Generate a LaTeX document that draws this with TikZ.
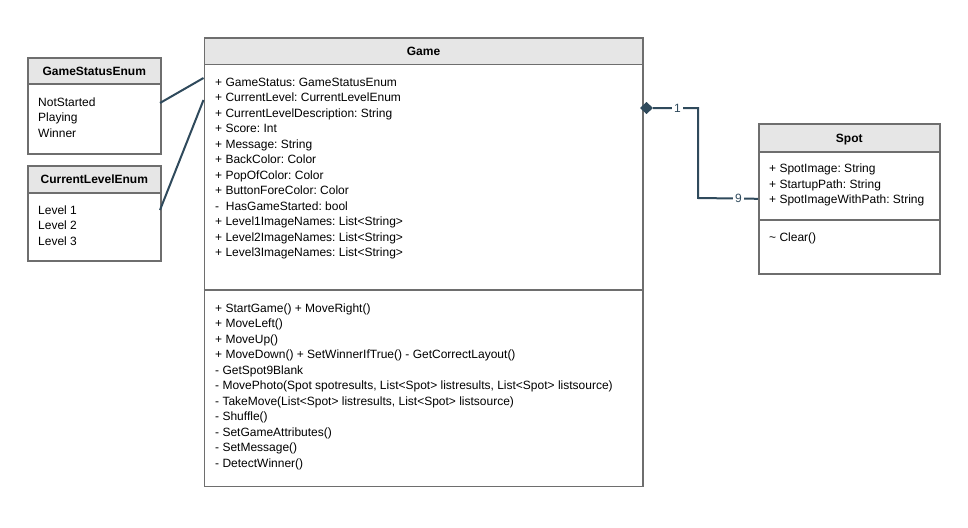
\documentclass[tikz,border=0pt]{standalone}
\usepackage{fontspec}
\setmainfont{Liberation Sans}
\frenchspacing
\definecolor{bordergray}{HTML}{6E6E6E}
\definecolor{headfill}{HTML}{E6E6E6}
\definecolor{conncol}{HTML}{2F4A5C}
\tikzset{
  classbox/.style={draw=bordergray, line width=1.6pt, fill=white, rectangle, inner sep=0pt, anchor=north west},
  headbox/.style={draw=bordergray, line width=1.6pt, fill=headfill, rectangle, inner sep=0pt, anchor=north west},
  divider/.style={draw=bordergray, line width=1.6pt},
  title/.style={font=\fontsize{12}{14}\selectfont\bfseries, text height=8.6pt, text depth=0pt, inner sep=0pt},
  item/.style={font=\fontsize{12}{14}\selectfont, anchor=base west, inner sep=0pt},
  conn/.style={draw=conncol, line width=2pt},
  mult/.style={font=\fontsize{12}{14}\selectfont, text=conncol, fill=white, inner sep=1.8pt, text height=8.6pt, text depth=0pt}
}
\begin{document}
\begin{tikzpicture}[x=1pt,y=-1pt]
\useasboundingbox (0,0) rectangle (968,527);
% ---------- GameStatusEnum ----------
\node[classbox, minimum width=133pt, minimum height=96pt] (gse) at (27,57) {};
\node[headbox, minimum width=133pt, minimum height=26pt] (gseh) at (27,57) {};
\node[title] (gset) at (gseh.center) {GameStatusEnum};
\foreach \t [count=\i] in {NotStarted, Playing, Winner}
  \node[item] (gsa\i) at (38, 106+15.5*\i-15.5) {\t};
% ---------- CurrentLevelEnum ----------
\node[classbox, minimum width=133pt, minimum height=95pt] (cle) at (27,165) {};
\node[headbox, minimum width=133pt, minimum height=27pt] (cleh) at (27,165) {};
\node[title] (clet) at (cleh.center) {CurrentLevelEnum};
\foreach \t [count=\i] in {Level 1, Level 2, Level 3}
  \node[item] (cla\i) at (38, 214+15.5*\i-15.5) {\t};
% ---------- Game ----------
\node[classbox, minimum width=438.5pt, minimum height=448.5pt] (game) at (203.5,37) {};
\node[headbox, minimum width=438.5pt, minimum height=26.5pt] (gameh) at (203.5,37) {};
\node[title] (gamet) at (gameh.center) {Game};
\coordinate (gdl) at (203.5,290);
\coordinate (gdr) at (642,290);
\draw[divider] (gdl) -- (gdr);
\foreach \t [count=\i] in {
  + GameStatus: GameStatusEnum,
  + CurrentLevel: CurrentLevelEnum,
  + CurrentLevelDescription: String,
  + Score: Int,
  + Message: String,
  + BackColor: Color,
  + PopOfColor: Color,
  + ButtonForeColor: Color,
  -\ \ HasGameStarted: bool,
  + Level1ImageNames: List<String>,
  + Level2ImageNames: List<String>,
  + Level3ImageNames: List<String>}
  \node[item] (ga\i) at (215, 86+15.5*\i-15.5) {\t};
\foreach \t [count=\i] in {
  + StartGame() + MoveRight(),
  + MoveLeft(),
  + MoveUp(),
  + MoveDown() + SetWinnerIfTrue() - GetCorrectLayout(),
  - GetSpot9Blank,
  {- MovePhoto(Spot spotresults, List<Spot> listresults, List<Spot> listsource)},
  {- TakeMove(List<Spot> listresults, List<Spot> listsource)},
  - Shuffle(),
  - SetGameAttributes(),
  - SetMessage(),
  - DetectWinner()}
  \node[item] (gm\i) at (215, 312.3+15.5*\i-15.5) {\t};
% ---------- Spot ----------
\node[classbox, minimum width=181pt, minimum height=150pt] (spot) at (758,123) {};
\node[headbox, minimum width=181pt, minimum height=28pt] (spoth) at (758,123) {};
\node[title] (spott) at (spoth.center) {Spot};
\coordinate (sdl) at (758,220);
\coordinate (sdr) at (939,220);
\draw[divider] (sdl) -- (sdr);
\foreach \t [count=\i] in {+ SpotImage: String, + StartupPath: String, + SpotImageWithPath: String}
  \node[item] (sa\i) at (769, 172.7+15.5*\i-15.5) {\t};
\node[item] (sm1) at (769, 241.7) {\textasciitilde\ Clear()};
% ---------- connectors ----------
\coordinate (e1) at (160,103);
\coordinate (g1) at (203.5,78);
\draw[conn] (e1) -- (g1);
\coordinate (e2) at (160,210);
\coordinate (g2) at (203.5,100);
\draw[conn] (e2) -- (g2);
\coordinate (diaw) at (640,108);
\coordinate (diae) at (653,108);
\fill[conncol] (diaw) -- (646.5,102) -- (diae) -- (646.5,114) -- cycle;
\coordinate (bend1) at (698,108);
\coordinate (bend2) at (698,198);
\draw[conn] (diae) -- (bend1) -- (bend2) -- (spot.west);
\node[mult] (m1) at (677.5,108) {1};
\node[mult] (m9) at (738.5,198) {9};
\end{tikzpicture}
\end{document}
